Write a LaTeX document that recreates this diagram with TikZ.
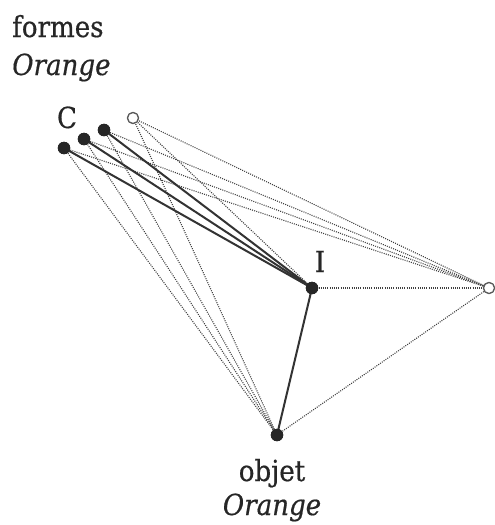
\documentclass[tikz,border=0pt]{standalone}
\usepackage{fontspec}
\setmainfont{DejaVu Serif Condensed}[FakeBold=0.6]
\begin{document}
\begin{tikzpicture}[x=1pt,y=-1pt,
  blackdot/.style={circle,fill=black!85,draw=black!85,inner sep=0pt,minimum size=12pt},
  opendot/.style={circle,fill=white,draw=black!65,line width=1.2pt,inner sep=0pt,minimum size=11pt},
  solidlink/.style={draw=black!80,line width=2pt},
  dotlink/.style={draw=black!75,line width=1.1pt,dash pattern=on 1pt off 1.2pt},
  lbl/.style={inner sep=0pt,font=\fontsize{29}{33}\selectfont,text=black!85}]
\useasboundingbox (0,0) rectangle (495,525);
\node[blackdot] (a) at (64,148) {};
\node[blackdot] (b) at (84,139) {};
\node[blackdot] (d) at (104,130) {};
\node[opendot] (e) at (133,118) {};
\node[blackdot] (i) at (312,288) {};
\node[opendot] (r) at (489,288) {};
\node[blackdot] (o) at (277,435) {};
\foreach \n in {a,b,d,e}{
  \draw[dotlink] (\n.center) -- (r.center);
  \draw[dotlink] (\n.center) -- (o.center);
}
\draw[dotlink] (e.center) -- (i.center);
\draw[dotlink] (i.center) -- (r.center);
\draw[dotlink] (o.center) -- (r.center);
\foreach \n in {a,b,d}{
  \draw[solidlink] (\n.center) -- (i.center);
}
\draw[solidlink] (i.center) -- (o.center);
\node[blackdot] at (a) {};
\node[blackdot] at (b) {};
\node[blackdot] at (d) {};
\node[opendot] at (e) {};
\node[blackdot] at (i) {};
\node[opendot] at (r) {};
\node[blackdot] at (o) {};
\node[lbl,anchor=base west] (formes) at (12,37) {formes};
\node[lbl,anchor=base west] (orange1) at (12,75) {\itshape Orange};
\node[lbl,anchor=base] (c) at (67,128) {C};
\node[lbl,anchor=base] (ilbl) at (320,272) {I};
\node[lbl,anchor=base] (objet) at (272,481) {objet};
\node[lbl,anchor=base] (orange2) at (272,515) {\itshape Orange};
\end{tikzpicture}
\end{document}
